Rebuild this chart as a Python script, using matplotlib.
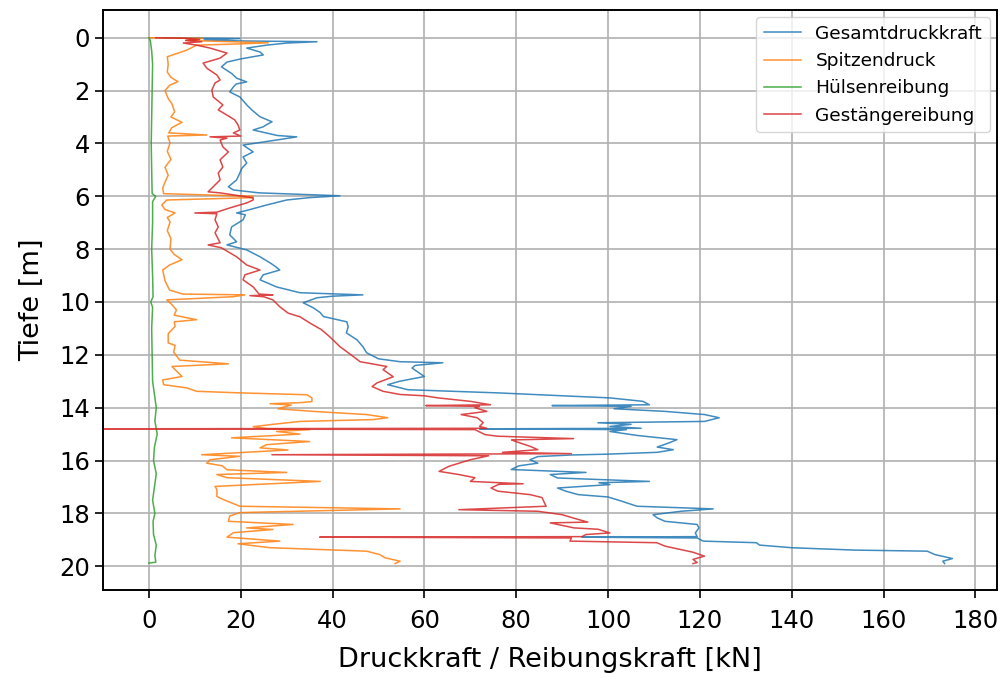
import numpy as np
import matplotlib
matplotlib.use("Agg")
import matplotlib.pyplot as plt

# Tiefe [m] und Kraft [kN]
tiefe_gesamt = [0.0, 0.03, 0.08, 0.12, 0.15, 0.2, 0.28, 0.39, 0.54, 0.65, 0.8, 0.92, 1.1, 1.35, 1.53,
                1.67, 1.75, 1.86, 2.05, 2.24, 2.54, 2.73, 2.99, 3.18, 3.3, 3.37, 3.49, 3.7, 3.75, 3.87,
                4.06, 4.32, 4.51, 4.74, 4.95, 5.12, 5.38, 5.64, 5.76, 5.87, 5.98, 6.05, 6.14, 6.33, 6.52,
                6.63, 6.7, 6.89, 7.16, 7.46, 7.72, 7.84, 8.03, 8.29, 8.52, 8.65, 8.79, 8.97, 9.16, 9.43,
                9.65, 9.73, 9.78, 9.84, 10.03, 10.22, 10.4, 10.55, 10.75, 10.94, 11.17, 11.43, 11.69,
                11.92, 12.15, 12.26, 12.3, 12.4, 12.5, 12.82, 13.0, 13.13, 13.32, 13.44, 13.55, 13.63,
                13.76, 13.89, 13.92, 13.95, 14.04, 14.14, 14.26, 14.38, 14.52, 14.57, 14.63, 14.71,
                14.78, 14.8, 14.83, 14.9, 15.05, 15.21, 15.33, 15.49, 15.59, 15.69, 15.76, 15.79, 15.85,
                15.97, 16.1, 16.2, 16.34, 16.45, 16.53, 16.66, 16.79, 16.84, 16.91, 17.04, 17.16, 17.29,
                17.38, 17.54, 17.73, 17.83, 17.92, 18.05, 18.17, 18.3, 18.42, 18.55, 18.74, 18.88, 18.9,
                18.93, 19.05, 19.11, 19.2, 19.3, 19.39, 19.43, 19.56, 19.71, 19.81, 19.9]
gesamt = [3, 19.8, 12, 20, 36.6, 30, 25.6, 21.3, 24.2, 24.9, 20, 17, 15.8, 18, 19.1,
          21.3, 19, 18.4, 17.6, 19.8, 21.3, 22.4, 24.2, 26.8, 25.5, 24.9, 22.7, 28, 32.2, 27.8,
          20.5, 22.7, 20.5, 21.3, 20.2, 19.8, 19.1, 17.3, 18.4, 24, 41.6, 35, 30, 25.6, 21.6,
          19.1, 21, 20.5, 18, 17.6, 19.1, 17, 21.3, 24.2, 26.4, 27.5, 28.5, 24.9, 24.2, 27.8,
          32.9, 46.6, 40, 36.6, 33.6, 35.8, 37.3, 38, 43.1, 43.4, 43, 45.3, 46.6,
          47.4, 50, 54.7, 64, 58, 57.3, 60, 54.6, 52, 56.4, 76, 90, 100.4,
          107.6, 109, 87.8, 105, 101.3, 112.4, 121, 124.2, 121, 97.8, 105, 100.4,
          107.2, 72, 104, 100.4, 106.3, 115, 113.3, 110.7, 114.2, 110.7, 99.6, 92, 84.7,
          83, 84.7, 80.6, 78.9, 95.2, 87.4, 89, 109, 98, 100.4, 89, 90.8, 93.5,
          100, 103, 106.3, 122.9, 115.9, 109.8, 110.7, 112.4, 119.4, 119.8, 119, 119.4, 94.3,
          119.4, 120.7, 132.3, 133, 140, 153.8, 169.5, 171.2, 175, 172.9, 173.3]

tiefe_spitze = [0.0, 0.02, 0.1, 0.19, 0.23, 0.28, 0.47, 0.6, 0.72, 1.0, 1.3, 1.5, 1.66, 1.8, 2.0,
                2.3, 2.5, 2.8, 3.0, 3.2, 3.4, 3.6, 3.68, 3.72, 3.98, 4.3, 4.6, 4.9, 5.2, 5.5, 5.7,
                5.9, 6.0, 6.05, 6.14, 6.33, 6.5, 6.63, 6.8, 6.97, 7.3, 7.6, 8.0, 8.2, 8.4, 8.6, 8.79,
                9.2, 9.55, 9.7, 9.73, 9.8, 9.92, 10.1, 10.3, 10.5, 10.67, 10.75, 10.92, 11.2, 11.55,
                11.64, 11.9, 12.2, 12.34, 12.44, 12.7, 12.82, 12.95, 13.13, 13.25, 13.38, 13.44,
                13.51, 13.63, 13.77, 13.81, 13.85, 13.9, 14.04, 14.14, 14.26, 14.38, 14.45, 14.52,
                14.63, 14.72, 14.8, 14.83, 14.9, 15.0, 15.14, 15.28, 15.4, 15.52, 15.6, 15.7, 15.78,
                15.84, 15.97, 16.1, 16.2, 16.35, 16.45, 16.53, 16.65, 16.79, 16.98, 17.1, 17.36,
                17.47, 17.73, 17.83, 17.97, 18.1, 18.3, 18.42, 18.55, 18.61, 18.73, 18.9, 19.05,
                19.15, 19.3, 19.43, 19.56, 19.68, 19.81, 19.9]
spitze = [0, 11.8, 8, 26, 20, 10.4, 8.2, 6, 4, 4.2, 4, 4.8, 6.3, 4.5, 3.5,
          4.2, 5, 5.6, 4.8, 7.2, 5, 4.3, 12.6, 4.1, 4.6, 4.0, 4.8, 3.5, 4.2, 3.4, 3,
          3.2, 22.7, 22.6, 3.9, 2.8, 3.5, 5.7, 4, 4.6, 4.0, 4.8, 4.6, 5.5, 7.2, 4.5, 3,
          3.5, 4.5, 7.4, 20.9, 18.4, 3.9, 5, 6, 5.5, 10.4, 5.5, 5.7, 4.2, 4.2,
          5.7, 5.4, 6.7, 17.3, 5, 6.5, 7.2, 3, 3.2, 8.2, 10.4, 19.8,
          34.4, 35.5, 35.5, 32.9, 26.4, 31, 28.1, 35.8, 47.4, 52, 48.8, 32.9,
          27, 22.7, 26, 35, 27.8, 32.9, 18, 35, 25.6, 24.2, 30.3, 19.8, 11.5,
          19.8, 13.3, 12.6, 16, 17, 30, 14.8, 17, 37.3, 14.4, 14.8, 14.8,
          16.1, 19.8, 54.7, 19.8, 17.6, 17.3, 31.4, 21.3, 27, 18.4, 17, 28.5,
          19.4, 26.4, 47.4, 50.3, 51.4, 54.7, 53.6]

tiefe_huelse = [0.0, 0.1, 0.5, 1.0, 2.0, 3.0, 4.0, 5.0, 5.9, 6.0, 6.2, 7.0, 8.0, 9.0, 9.8, 10.0,
                10.2, 11.0, 12.0, 13.0, 13.5, 14.0, 14.5, 15.0, 15.5, 16.0, 16.5, 17.0, 17.5, 18.0,
                18.3, 18.8, 19.2, 19.6, 19.85, 19.88]
huelse = [0.0, 0.3, 0.6, 0.8, 0.7, 0.6, 0.5, 0.6, 0.7, 1.5, 0.8, 0.8, 0.6, 0.8, 0.9, 0.4,
          0.8, 0.6, 0.7, 0.8, 1.2, 1.6, 1.3, 1.8, 1.2, 1.0, 1.6, 1.2, 0.8, 1.3,
          0.9, 1.0, 1.6, 1.3, 1.5, 0.0]

tiefe_gestaenge = [0.0, 0.02, 0.06, 0.1, 0.15, 0.2, 0.28, 0.39, 0.58, 0.77, 0.96, 1.15, 1.41, 1.6,
                   1.71, 1.98, 2.24, 2.54, 2.73, 2.99, 3.11, 3.3, 3.49, 3.6, 3.72, 3.75, 3.8, 3.87,
                   4.13, 4.32, 4.62, 4.89, 5.12, 5.38, 5.64, 5.83, 5.87, 6.06, 6.14, 6.25, 6.44, 6.6,
                   6.63, 6.66, 6.89, 7.16, 7.38, 7.76, 7.84, 7.95, 8.29, 8.6, 8.79, 8.97, 9.16, 9.43,
                   9.7, 9.73, 9.76, 9.8, 9.92, 10.18, 10.42, 10.56, 10.79, 11.05, 11.32, 11.69, 11.92,
                   12.26, 12.44, 12.56, 12.83, 13.06, 13.2, 13.38, 13.5, 13.55, 13.63, 13.76, 13.89,
                   13.92, 13.95, 14.0, 14.14, 14.26, 14.38, 14.57, 14.71, 14.78, 14.8, 14.83, 15.02,
                   15.08, 15.17, 15.22, 15.27, 15.46, 15.59, 15.69, 15.74, 15.78, 15.82, 15.97, 16.22,
                   16.41, 16.53, 16.65, 16.79, 16.88, 16.9, 17.04, 17.16, 17.29, 17.4, 17.73, 17.86,
                   17.92, 18.05, 18.23, 18.33, 18.36, 18.55, 18.6, 18.74, 18.8, 18.88, 18.9, 18.93,
                   19.05, 19.11, 19.24, 19.37, 19.47, 19.62, 19.74, 19.86, 19.9]
gestaenge = [1.5, 8, 11, 8, 11.5, 7.5, 10.4, 13.3, 17, 15.5, 11.8, 12.6, 14.8, 15.5,
             14.4, 13.7, 14, 16.1, 15.1, 17.6, 18.7, 19.4, 19.8, 18.4, 20, 13.3, 17, 15.5,
             16.1, 17.3, 15.5, 16.1, 15.1, 15.5, 14, 12.9, 15.5, 22.7, 22.7, 21.3, 17.6, 14.8,
             10, 14.8, 14.4, 15.1, 14.4, 15.5, 12.9, 15.8, 19.1, 21.3, 24.2, 20.9, 20.5, 22.7,
             24, 27, 22, 25, 27, 28.5, 30.3, 32.9, 35, 37.6, 39.4, 41.6, 43.4,
             46, 51.8, 51, 53.2, 49.7, 48.6, 51, 54.7, 60, 63, 70, 74.4,
             60.3, 72, 71, 73.6, 68, 71.5, 72.8, 72, 73.6, -12, 71, 73.2,
             76, 92.5, 79, 79.7, 83, 84.7, 77, 92, 26.8, 74, 70, 65.3,
             63.2, 67.5, 71, 70, 81.5, 76.2, 74.5, 76, 83, 85.6, 86.5, 67.5,
             84.7, 90, 93.5, 95.6, 87.4, 92.6, 97.8, 100.4, 95.2, 94.3, 37.2, 92,
             91.7, 110.6, 112.4, 115.9, 118.5, 121, 118.5, 119.4, 118.5]

fig = plt.figure(figsize=(10.04, 6.77), dpi=100)
ax = fig.add_axes([0.1026, 0.1285, 0.8904, 0.8567])

ax.plot(gesamt, tiefe_gesamt, color="C0", lw=1.1, alpha=0.85, label="Gesamtdruckkraft")
ax.plot(spitze, tiefe_spitze, color="C1", lw=1.1, alpha=0.85, label="Spitzendruck")
ax.plot(huelse, tiefe_huelse, color="C2", lw=1.1, alpha=0.85, label="Hülsenreibung")
ax.plot(gestaenge, tiefe_gestaenge, color="C3", lw=1.1, alpha=0.85, label="Gestängereibung")

ax.set_xlim(-10, 184.7)
ax.set_ylim(20.9, -1.05)
ax.set_xticks(np.arange(0, 181, 20))
ax.set_yticks(np.arange(0, 21, 2))
ax.tick_params(labelsize=17.5, length=6, width=1.2)
ax.tick_params(axis="x", pad=8)
ax.grid(True, color="#b0b0b0", lw=1.2)
for s in ax.spines.values():
    s.set_linewidth(1.4)

ax.set_xlabel("Druckkraft / Reibungskraft [kN]", fontsize=19.5, labelpad=10)
ax.set_ylabel("Tiefe [m]", fontsize=19.5, labelpad=10)
ax.legend(loc="upper right", fontsize=13.3, borderaxespad=0.4)

fig.savefig("out.png", dpi=100)
